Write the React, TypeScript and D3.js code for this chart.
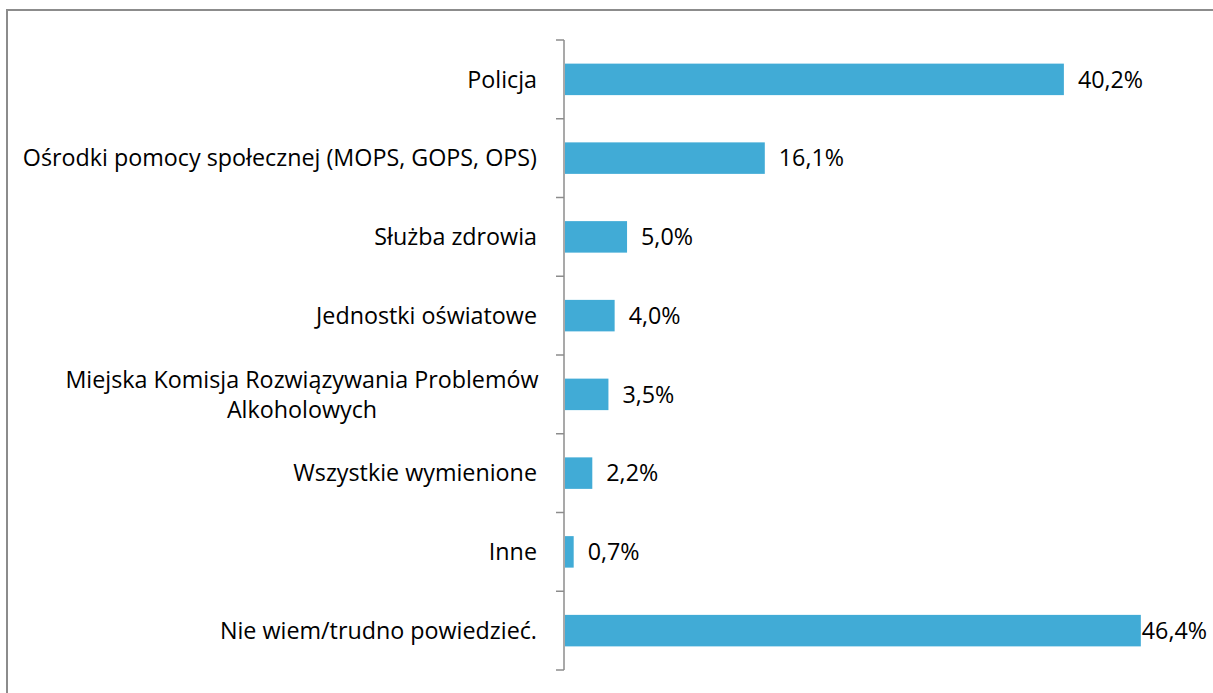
import React from "react";
import * as d3 from "d3";

const categories = [
  "Policja",
  "Ośrodki pomocy społecznej (MOPS, GOPS, OPS)",
  "Służba zdrowia",
  "Jednostki oświatowe",
  "Miejska Komisja Rozwiązywania Problemów\nAlkoholowych",
  "Wszystkie wymienione",
  "Inne",
  "Nie wiem/trudno powiedzieć.",
];
const values = [40.2, 16.1, 5.0, 4.0, 3.5, 2.2, 0.7, 46.4];
const valueLabels = ["40,2%", "16,1%", "5,0%", "4,0%", "3,5%", "2,2%", "0,7%", "46,4%"];

const W = 1213;
const H = 693;
const FONT = "'Open Sans', sans-serif";
const FS = 23.3;

export default function App() {
  const axisX = 564;
  const top = 40;
  const bottom = 670;
  const x = d3.scaleLinear().domain([0, 50]).range([axisX, axisX + 50 * 12.41]);
  const y = d3.scaleBand<string>().domain(categories).range([top, bottom]).paddingInner(0.6).paddingOuter(0.3);
  const band = (bottom - top) / categories.length;
  const ticks = d3.range(categories.length + 1).map((i) => top + i * band);
  const labelW = 66;
  const rightLimit = 1207;
  return (
    <svg width={W} height={H} style={{ position: "absolute", left: 0, top: 0 }} fontFamily={FONT}>
      <rect x={0} y={0} width={W} height={H} fill="#fff" />
      <rect x={7} y={10} width={W + 20} height={H + 20} fill="none" stroke="#8c8c8c" strokeWidth={2} />
      {categories.map((c, i) => {
        const yc = (y(c) as number) + y.bandwidth() / 2;
        const lines = c.split("\n");
        const lx = x(values[i]) + 15;
        const overflow = lx + labelW > rightLimit;
        return (
          <g key={c}>
            <rect x={x(0) + 1} y={y(c)} width={x(values[i]) - x(0)} height={y.bandwidth()} fill="#41abd6" />
            <text
              x={overflow ? rightLimit : lx}
              y={yc}
              dy="0.35em"
              fontSize={FS}
              textAnchor={overflow ? "end" : "start"}
              fill="#000"
            >
              {valueLabels[i]}
            </text>
            {lines.length === 1 ? (
              <text x={537} y={yc} dy="0.35em" fontSize={FS} textAnchor="end" fill="#000">
                {c}
              </text>
            ) : (
              <g>
                {lines.map((l, j) => (
                  <text key={j} x={302} y={yc + (j - (lines.length - 1) / 2) * 30} dy="0.35em" fontSize={FS} textAnchor="middle" fill="#000">
                    {l}
                  </text>
                ))}
              </g>
            )}
          </g>
        );
      })}
      <line x1={axisX} x2={axisX} y1={top} y2={bottom} stroke="#8c8c8c" strokeWidth={1.5} />
      {ticks.map((t, i) => (
        <line key={i} x1={axisX - 8} x2={axisX} y1={t} y2={t} stroke="#8c8c8c" strokeWidth={1.5} />
      ))}
    </svg>
  );
}
